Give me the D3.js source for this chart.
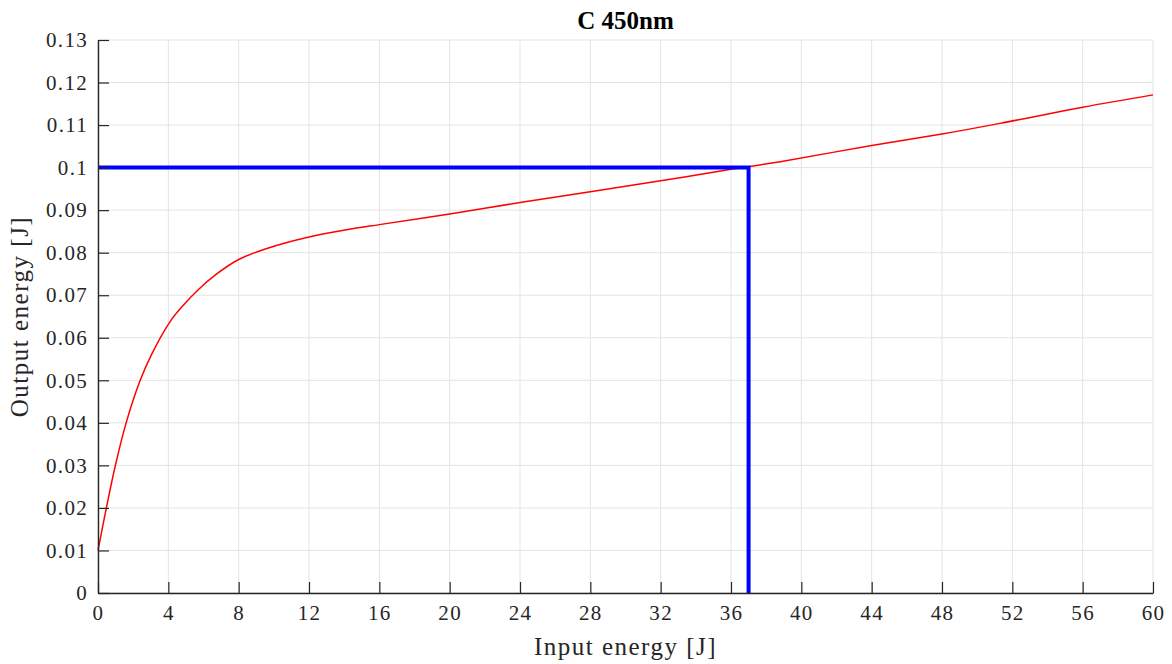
<!DOCTYPE html>
<html>
<head>
<meta charset="utf-8">
<script src="https://cdn.jsdelivr.net/npm/d3@7/dist/d3.min.js"></script>
<style>
  html, body { margin: 0; padding: 0; background: #fff; }
  svg { display: block; }
  text { font-family: "Liberation Serif", "Times New Roman", serif; }
</style>
</head>
<body>
<svg id="chart" width="1172" height="664"></svg>
<script>
// Red curve: output vs input energy
const inputEnergy  = [0, 0.5, 1, 1.6, 2.4, 3.0, 4.1, 4.8, 5.7, 6.75, 8, 9.6, 12, 14.3, 16, 20, 24, 28, 32, 36, 38.8, 44, 48, 51.3, 56, 60];
const outputEnergy = [0.010, 0.0205, 0.0302, 0.0400, 0.0500, 0.0557, 0.0638, 0.0674, 0.0713, 0.0750, 0.0784, 0.0810, 0.0837, 0.0855, 0.0866, 0.0891, 0.0918, 0.0943, 0.0969, 0.0996, 0.1014, 0.1052, 0.1079, 0.1104, 0.1142, 0.1171];
// Blue marker lines (operating point)
const markerX = [0, 37, 37];
const markerY = [0.1, 0.1, 0];
const xTicks = [0, 4, 8, 12, 16, 20, 24, 28, 32, 36, 40, 44, 48, 52, 56, 60];
const yTicks = [0, 0.01, 0.02, 0.03, 0.04, 0.05, 0.06, 0.07, 0.08, 0.09, 0.1, 0.11, 0.12, 0.13];
const titleText = "C 450nm";
const xLabel = "Input energy [J]";
const yLabel = "Output energy [J]";

const svg = d3.select("#chart");
const m = { left: 98, right: 1153, top: 40, bottom: 593 };
const x = d3.scaleLinear().domain([0, 60]).range([m.left, m.right]);
const y = d3.scaleLinear().domain([0, 0.13]).range([m.bottom, m.top]);
const serif = '"Liberation Serif", "Times New Roman", serif';

// grid
const grid = svg.append("g");
grid.selectAll("line.vx").data(xTicks).enter().append("line")
  .attr("x1", d => x(d)).attr("x2", d => x(d))
  .attr("y1", m.top).attr("y2", m.bottom)
  .attr("stroke", "#e3e3e3").attr("stroke-width", 1);
grid.selectAll("line.hy").data(yTicks).enter().append("line")
  .attr("x1", m.left).attr("x2", m.right)
  .attr("y1", d => y(d)).attr("y2", d => y(d))
  .attr("stroke", "#e3e3e3").attr("stroke-width", 1);

// data lines
const pts = inputEnergy.map((v, i) => [v, outputEnergy[i]]);
svg.append("path").datum(pts)
  .attr("d", d3.line().x(d => x(d[0])).y(d => y(d[1])).curve(d3.curveCatmullRom.alpha(0.5)))
  .attr("fill", "none").attr("stroke", "#ff0000").attr("stroke-width", 1.5);

const mpts = markerX.map((v, i) => [v, markerY[i]]);
svg.append("path").datum(mpts)
  .attr("d", d3.line().x(d => x(d[0])).y(d => y(d[1])))
  .attr("fill", "none").attr("stroke", "#0000ff").attr("stroke-width", 4);

// axes
const axColor = "#262626";
const xAxis = svg.append("g").attr("transform", `translate(0,${m.bottom})`)
  .call(d3.axisBottom(x).tickValues(xTicks).tickSizeInner(-11).tickSizeOuter(0).tickPadding(20).tickFormat(d3.format("d")));
const yAxis = svg.append("g").attr("transform", `translate(${m.left},0)`)
  .call(d3.axisLeft(y).tickValues(yTicks).tickSizeInner(-11).tickSizeOuter(0).tickPadding(10).tickFormat(d => d === 0 ? "0" : String(+d.toFixed(2))));
[xAxis, yAxis].forEach(a => {
  a.attr("font-family", serif).attr("font-size", 21);
  a.select(".domain").attr("stroke", axColor).attr("stroke-width", 1.4);
  a.selectAll(".tick line").attr("stroke", axColor).attr("stroke-width", 1.2);
  a.selectAll(".tick text").attr("fill", axColor)
    .style("font-family", serif).style("font-size", "21px").style("letter-spacing", "1.3px");
});
xAxis.selectAll(".tick text").attr("dy", "0.35em");

// title and labels
svg.append("text").attr("x", (m.left + m.right) / 2).attr("y", 29)
  .attr("text-anchor", "middle").style("font-family", serif).style("font-weight", "bold").style("font-size", "25px")
  .attr("fill", "#000").text(titleText);
svg.append("text").attr("x", (m.left + m.right) / 2).attr("y", 655)
  .attr("text-anchor", "middle").style("font-family", serif).style("font-size", "25px").style("letter-spacing", "1.5px")
  .attr("fill", axColor).text(xLabel);
svg.append("text").attr("transform", `translate(28,${(m.top + m.bottom) / 2}) rotate(-90)`)
  .attr("text-anchor", "middle").style("font-family", serif).style("font-size", "25px").style("letter-spacing", "1.5px")
  .attr("fill", axColor).text(yLabel);
</script>
</body>
</html>
